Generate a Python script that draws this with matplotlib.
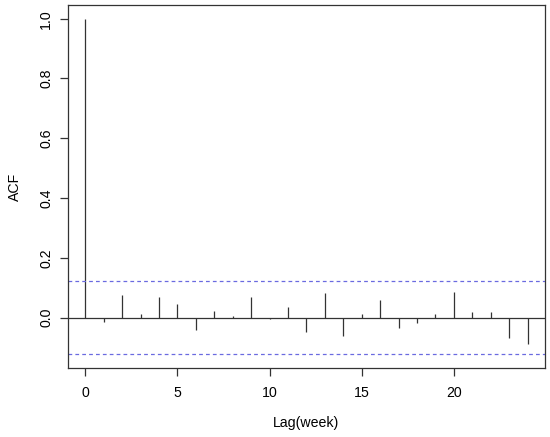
import matplotlib
matplotlib.use("Agg")
import matplotlib.pyplot as plt
import numpy as np

plt.rcParams['font.family'] = ['Liberation Sans', 'DejaVu Sans']

lags = list(range(25))
acf = [1.0, -0.015, 0.075, 0.012, 0.070, 0.046, -0.040, 0.022, 0.007, 0.068,
       -0.005, 0.036, -0.048, 0.081, -0.060, 0.013, 0.059, -0.034, -0.017, 0.011,
       0.084, 0.018, 0.018, -0.068, -0.088]
conf = 0.122
xticks = [0, 5, 10, 15, 20]
yticks = [0.0, 0.2, 0.4, 0.6, 0.8, 1.0]

fig = plt.figure(figsize=(5.5, 4.37), dpi=100)
ax = fig.add_axes([0.1229, 0.159, 0.9915 - 0.1229, 0.988 - 0.159])

ax.vlines(lags, 0, acf, color='#333333', linewidth=0.9)
ax.axhline(0, color='#333333', linewidth=0.9)
ax.axhline(conf, color='#6a6ae0', linewidth=0.9, linestyle=(0, (3, 2.5)))
ax.axhline(-conf, color='#6a6ae0', linewidth=0.9, linestyle=(0, (3, 2.5)))

ax.set_xlim(-0.96, 24.96)
ax.set_ylim(-0.167, 1.045)
ax.set_xticks(xticks)
ax.set_xticklabels([str(t) for t in xticks])
ax.set_yticks(yticks)
ax.set_yticklabels([f"{t:.1f}" for t in yticks], rotation=90, va='center')

for s in ax.spines.values():
    s.set_color('#333333')
    s.set_linewidth(0.9)
ax.tick_params(axis='both', length=5.5, width=0.9, color='#333333', labelsize=10.2)
ax.tick_params(axis='x', pad=7.5)
ax.tick_params(axis='y', pad=5)

ax.set_xlabel('Lag(week)', fontsize=10.2, labelpad=12)
ax.set_ylabel('ACF', fontsize=10.2, labelpad=12)

fig.savefig('out.png', dpi=100)
